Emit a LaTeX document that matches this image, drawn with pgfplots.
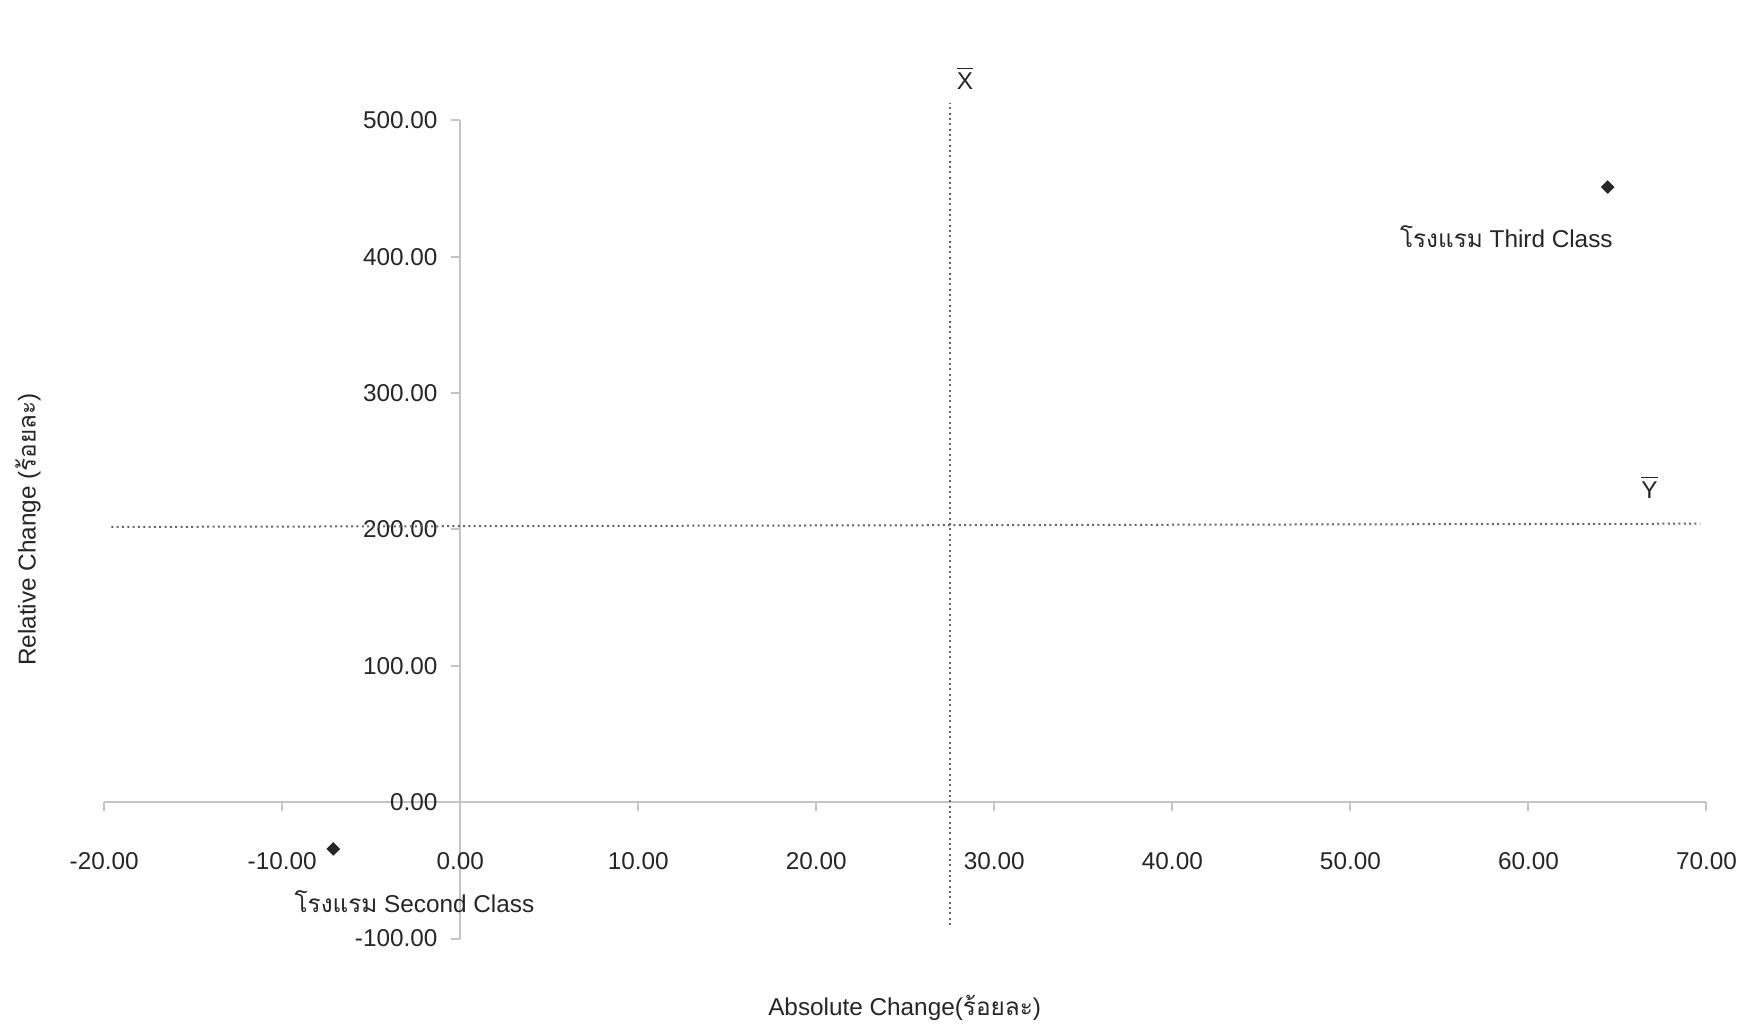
\documentclass[border=0pt]{standalone}
\usepackage{pgfplots}
\pgfplotsset{compat=1.18}
\usepackage{fontspec}
\setmainfont{Liberation Sans}
\newfontfamily\thaifont[Script=Thai]{Loma}
\definecolor{axgray}{HTML}{C4C4C4}
\definecolor{meangray}{HTML}{666666}
\definecolor{txt}{HTML}{262626}
\begin{document}
\begin{tikzpicture}
\begin{axis}[
  scale only axis,
  width=480.96pt, height=245.6pt,
  xmin=-20, xmax=70, ymin=-100, ymax=500,
  axis lines=middle,
  axis line style={axgray, -, line width=0.6pt},
  hide obscured x ticks=false,
  hide obscured y ticks=false,
  clip=false,
  xtick={-20,-10,0,10,20,30,40,50,60,70},
  xticklabels={-20.00,-10.00,0.00,10.00,20.00,30.00,40.00,50.00,60.00,70.00},
  ytick={-100,0,100,200,300,400,500},
  yticklabels={-100.00,0.00,100.00,200.00,300.00,400.00,500.00},
  tick align=outside,
  major tick length=2.7pt,
  tick style={axgray, line width=0.6pt},
  tick label style={font=\fontsize{7.3}{8.8}\selectfont, text=txt},
  xticklabel style={anchor=center, yshift=-15.1pt},
  yticklabel style={anchor=east, xshift=-0.6pt},
]
\path (axis cs:-25.85,-162.9) rectangle (axis cs:72.3,588.2);
% mean lines
\addplot[meangray, densely dotted, line width=0.6pt] coordinates {(27.5,-90) (27.5,513)};
\addplot[meangray, densely dotted, line width=0.6pt] coordinates {(-19.6,201.8) (69.65,204.2)};
% data points
\addplot[only marks, mark=square*, mark size=1.25pt, mark options={rotate=45, fill=black!85, draw=black!85}] coordinates {(-7.13,-34.3) (64.45,451)};
% labels
\node[text=txt, inner sep=0pt, font=\fontsize{7.3}{8.8}\selectfont] at (axis cs:-2.57,-72.7) {{\thaifont โรงแรม} Second Class};
\node[text=txt, inner sep=0pt, font=\fontsize{7.3}{8.8}\selectfont] at (axis cs:58.76,415) {{\thaifont โรงแรม} Third Class};
\node[text=txt, inner sep=0pt, font=\fontsize{7.3}{8.8}\selectfont] at (axis cs:28.35,531) {$\overline{\hbox{X}}$};
\node[text=txt, inner sep=0pt, font=\fontsize{7.3}{8.8}\selectfont] at (axis cs:66.8,231) {$\overline{\hbox{Y}}$};
\node[text=txt, inner sep=0pt, font=\fontsize{7.3}{8.8}\selectfont] at (axis cs:24.96,-151.2) {Absolute Change({\thaifont ร้อยละ})};
\node[text=txt, inner sep=0pt, font=\fontsize{7.3}{8.8}\selectfont, rotate=90] at (axis cs:-24.28,199.8) {Relative Change ({\thaifont ร้อยละ})};
\end{axis}
\end{tikzpicture}
\end{document}
